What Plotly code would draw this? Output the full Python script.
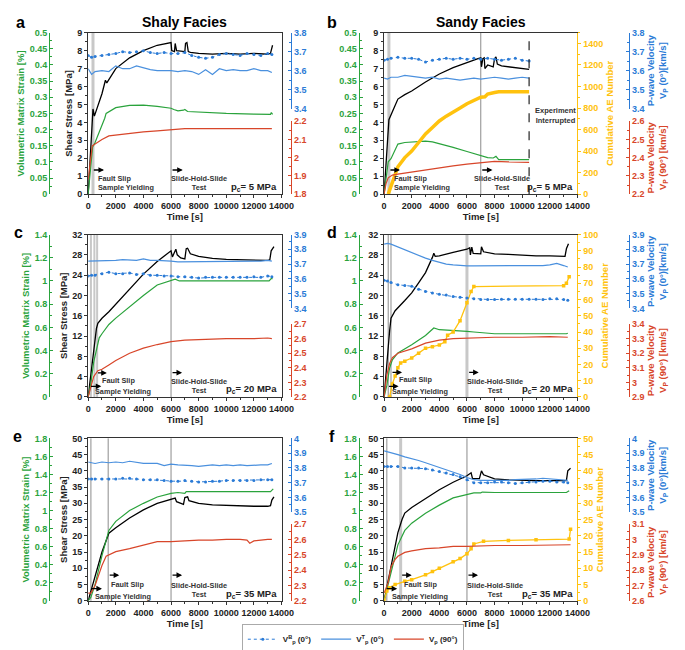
import plotly.graph_objects as go

W, H = 685, 650
GREEN = "#2aa33c"
BLUE = "#2b7bd6"
BLUE_LT = "#4a90de"
RED = "#d8462a"
GOLD = "#ffc20e"
INK = "#222222"
FONT = "Liberation Sans, Arial, sans-serif"

# ---- shared time grid for the P-wave velocity records ----
t_vel = [0, 250, 500, 1000, 1500, 2000, 2500, 3000, 3500, 4000, 4500, 5000, 5500, 6000, 6500,
         7000, 7500, 8000, 8500, 9000, 9500, 10000, 10500, 11000, 11500, 12000, 12500, 13000, 13300]

# ---- a: shaly, pc = 5 MPa ----
a_t_stress = [0, 300, 350, 450, 700, 1000, 1250, 1350, 2000, 3000, 4000, 5000, 6000, 6050, 6250,
              6300, 6400, 7000, 7050, 7150, 7250, 7400, 8000, 9000, 10000, 11000, 12000, 13000, 13200, 13350]
a_stress = [0, 4.0, 4.75, 4.35, 4.9, 5.6, 6.35, 6.2, 7.0, 7.6, 8.0, 8.3, 8.45, 8.0, 7.95,
            8.4, 8.0, 7.95, 8.4, 8.45, 7.95, 7.9, 7.85, 7.8, 7.85, 7.8, 7.85, 7.8, 7.85, 8.3]
a_t_strain = [0, 150, 320, 500, 800, 1200, 1300, 2000, 3000, 4000, 5000, 6000, 6200, 6500, 6900,
              7000, 7200, 8000, 10000, 12000, 13200, 13260, 13350]
a_strain = [0, 0.06, 0.145, 0.16, 0.19, 0.235, 0.25, 0.268, 0.275, 0.276, 0.272, 0.266, 0.262, 0.258, 0.26,
            0.262, 0.256, 0.254, 0.25, 0.248, 0.247, 0.253, 0.247]
a_t_vp = [0, 150, 300, 500, 1000, 1500, 2000, 3000, 4000, 5000, 6000, 7000, 8000, 10000, 12000, 13300]
a_vp90 = [1.88, 1.97, 2.065, 2.075, 2.10, 2.12, 2.125, 2.133, 2.142, 2.148, 2.155, 2.16, 2.16, 2.16, 2.158, 2.16]
a_vb0 = [3.68, 3.67, 3.675, 3.68, 3.685, 3.69, 3.70, 3.695, 3.70, 3.705, 3.695, 3.69, 3.695, 3.69, 3.69,
         3.695, 3.68, 3.67, 3.665, 3.67, 3.685, 3.69, 3.685, 3.68, 3.69, 3.685, 3.68, 3.69, 3.685]
a_vt0 = [3.61, 3.58, 3.595, 3.60, 3.595, 3.625, 3.61, 3.61, 3.625, 3.615, 3.605, 3.60, 3.60, 3.60, 3.595,
         3.60, 3.595, 3.58, 3.605, 3.58, 3.61, 3.60, 3.605, 3.60, 3.60, 3.61, 3.60, 3.60, 3.59]
a_events = [350, 6000]

# ---- b: sandy, pc = 5 MPa ----
b_t_stress = [0, 200, 300, 350, 600, 1000, 1500, 2000, 3000, 4000, 5000, 6000, 6800, 7000, 7050,
              7150, 7250, 7300, 7500, 7900, 8000, 8100, 8200, 8500, 9000, 9500, 10000, 10500]
b_stress = [0, 2.5, 4.0, 4.15, 4.6, 5.3, 5.55, 5.75, 6.25, 6.7, 7.05, 7.35, 7.55, 7.6, 7.1,
            7.55, 7.6, 7.0, 7.2, 7.1, 7.55, 7.65, 7.25, 7.15, 7.1, 7.05, 7.0, 6.95]
b_t_strain = [0, 150, 300, 500, 800, 1000, 1500, 2000, 3000, 3500, 4000, 5000, 6000, 7000, 7500,
              7900, 8100, 8300, 9000, 10500]
b_strain = [0, 0.05, 0.1, 0.11, 0.14, 0.155, 0.16, 0.162, 0.164, 0.162, 0.157, 0.145, 0.132, 0.12, 0.113,
            0.112, 0.117, 0.107, 0.107, 0.107]
b_t_vp = [0, 150, 300, 600, 1000, 2000, 3000, 4000, 5000, 6000, 7000, 8000, 9000, 10500]
b_vp90 = [2.2, 2.26, 2.29, 2.305, 2.31, 2.322, 2.333, 2.345, 2.355, 2.365, 2.373, 2.38, 2.377, 2.375]
b_t_ae = [300, 600, 1000, 1500, 2000, 2500, 3000, 3500, 4000, 4500, 5000, 5500, 6000, 6500, 7000,
          7300, 7500, 8000, 8300, 10500]
b_ae = [0, 120, 255, 340, 400, 480, 560, 620, 680, 725, 760, 800, 840, 870, 900,
        905, 930, 945, 952, 952]
b_t_vel = [0, 250, 500, 1000, 1500, 2000, 2500, 3000, 3500, 4000, 4500, 5000, 5500, 6000, 6500,
           7000, 7500, 8000, 8500, 9000, 9500, 10000, 10500]
b_vb0 = [3.655, 3.66, 3.665, 3.67, 3.665, 3.665, 3.66, 3.645, 3.655, 3.66, 3.665, 3.66, 3.665, 3.66, 3.665,
         3.66, 3.665, 3.66, 3.655, 3.66, 3.665, 3.655, 3.65]
b_vt0 = [3.56, 3.555, 3.565, 3.565, 3.575, 3.57, 3.565, 3.56, 3.565, 3.555, 3.56, 3.555, 3.55, 3.555, 3.56,
         3.555, 3.56, 3.565, 3.56, 3.555, 3.56, 3.565, 3.56]
b_events = [350, 7000]
b_interrupt = 10500

# ---- c: shaly, pc = 20 MPa ----
c_t_stress = [0, 300, 600, 700, 1000, 1500, 2000, 3000, 4000, 5000, 6000, 6100, 6300, 6350, 6450,
              6700, 7000, 7100, 7200, 7400, 8000, 9000, 10000, 11000, 12000, 13000, 13150, 13250, 13450]
c_stress = [0, 7, 13.5, 14.5, 15.5, 16.8, 18.3, 21.3, 24.2, 26.7, 28.8, 27.6, 28.9, 29.1, 28.0,
            27.4, 27.2, 29.2, 29.3, 28.2, 27.7, 27.3, 27.1, 27.0, 26.9, 26.9, 27.0, 28.8, 29.6]
c_t_strain = [0, 200, 400, 600, 800, 1000, 1500, 2000, 3000, 4000, 5000, 6000, 6300, 6600, 13100, 13250, 13350]
c_strain = [0, 0.12, 0.3, 0.42, 0.51, 0.545, 0.625, 0.68, 0.78, 0.875, 0.965, 1.008, 1.015, 1.0, 1.0, 1.02, 1.02]
c_t_vp = [0, 200, 400, 700, 1000, 1500, 2000, 3000, 4000, 5000, 6000, 7000, 8000, 10000, 12000, 13000, 13300]
c_vp90 = [2.2, 2.28, 2.34, 2.38, 2.39, 2.42, 2.45, 2.5, 2.535, 2.56, 2.58, 2.59, 2.595, 2.6, 2.6, 2.605, 2.6]
c_vb0 = [3.62, 3.625, 3.625, 3.635, 3.645, 3.635, 3.635, 3.64, 3.63, 3.635, 3.625, 3.625, 3.62, 3.62, 3.615,
         3.615, 3.61, 3.605, 3.61, 3.61, 3.61, 3.61, 3.61, 3.61, 3.61, 3.615, 3.61, 3.62, 3.615]
c_vt0 = [3.72, 3.72, 3.725, 3.725, 3.725, 3.725, 3.73, 3.73, 3.725, 3.735, 3.725, 3.725, 3.725, 3.72, 3.715,
         3.715, 3.72, 3.72, 3.72, 3.72, 3.72, 3.715, 3.72, 3.72, 3.72, 3.72, 3.72, 3.725, 3.72]
c_events = [200, 450, 650, 6000]

# ---- d: sandy, pc = 20 MPa ----
d_t_stress = [0, 200, 400, 500, 800, 1500, 2000, 2500, 3000, 3500, 3600, 3700, 4000, 5000, 6000,
              6200, 6250, 6350, 6450, 7000, 7050, 7200, 8000, 9000, 10000, 11000, 12000, 13100, 13200, 13350]
d_stress = [0, 7, 13, 15.5, 17, 19, 20.5, 22.5, 24.5, 27.5, 28.3, 27.7, 27.8, 28.5, 29.1,
            29.4, 28.0, 29.5, 28.3, 28.2, 29.6, 28.6, 28.2, 28.1, 27.9, 27.8, 27.8, 27.7, 29.2, 30.2]
d_t_strain = [0, 200, 400, 600, 1000, 2000, 3000, 3600, 4000, 5000, 6000, 6500, 7000, 7500, 8000,
              10000, 12000, 13200, 13300]
d_strain = [0, 0.1, 0.25, 0.32, 0.38, 0.45, 0.53, 0.595, 0.58, 0.575, 0.565, 0.56, 0.555, 0.548, 0.545,
            0.545, 0.543, 0.545, 0.55]
d_t_vp = [0, 200, 400, 600, 1000, 2000, 3000, 4000, 5000, 6000, 8000, 10000, 12000, 13300]
d_vp90 = [2.9, 3.05, 3.13, 3.17, 3.2, 3.23, 3.27, 3.29, 3.3, 3.305, 3.31, 3.31, 3.315, 3.31]
d_t_ae = [400, 600, 800, 1000, 1200, 1500, 2000, 2500, 3000, 3500, 4000, 4400, 4600, 5000, 5500,
          6000, 6300, 6500, 13000, 13200, 13400]
d_ae = [0, 8, 13, 18, 21, 22, 24, 27, 30, 31, 32, 34, 38, 40, 47,
        58, 65, 68, 68.5, 70, 74]
d_vt0 = [3.835, 3.84, 3.835, 3.815, 3.795, 3.78, 3.76, 3.74, 3.725, 3.71, 3.70, 3.695, 3.69, 3.688, 3.688,
         3.688, 3.69, 3.688, 3.688, 3.69, 3.688, 3.69, 3.69, 3.69, 3.69, 3.695, 3.705, 3.69, 3.68]
d_vb0 = [3.59, 3.585, 3.575, 3.56, 3.555, 3.55, 3.53, 3.515, 3.505, 3.495, 3.49, 3.48, 3.475, 3.47, 3.465,
         3.46, 3.46, 3.46, 3.462, 3.462, 3.462, 3.462, 3.462, 3.462, 3.46, 3.465, 3.465, 3.46, 3.455]
d_events = [300, 500, 6000]

# ---- e: shaly, pc = 35 MPa ----
e_t_stress = [0, 200, 500, 1000, 1500, 2000, 3000, 4000, 5000, 6000, 6300, 6400, 6500, 6900, 7000,
              7200, 7300, 8000, 9000, 10000, 11000, 12000, 13000, 13200, 13300, 13450]
e_stress = [0, 3, 8, 15, 20.8, 22.5, 25.5, 28, 30, 31.3, 31.6, 30.5, 30.3, 29.7, 31.8,
            32, 30.8, 30, 29.5, 29.3, 29.2, 29.1, 29.1, 29.3, 31, 32]
e_t_strain = [0, 200, 500, 1000, 1500, 2000, 3000, 4000, 5000, 6000, 6500, 7000, 7100, 8000, 10000,
              12000, 13200, 13400]
e_strain = [0, 0.04, 0.18, 0.5, 0.78, 0.88, 1.0, 1.08, 1.15, 1.19, 1.2, 1.19, 1.21, 1.21, 1.21,
            1.21, 1.21, 1.24]
e_t_vp = [0, 200, 500, 1000, 1300, 1500, 2000, 3000, 4000, 5000, 6000, 7000, 8000, 9000, 10000,
          11000, 11500, 11700, 12000, 13000, 13300]
e_vp90 = [2.25, 2.25, 2.3, 2.43, 2.49, 2.5, 2.52, 2.54, 2.56, 2.585, 2.585, 2.59, 2.595, 2.595, 2.6,
          2.6, 2.595, 2.575, 2.59, 2.6, 2.6]
e_vt0 = [3.84, 3.835, 3.83, 3.84, 3.835, 3.84, 3.835, 3.845, 3.835, 3.83, 3.83, 3.83, 3.815, 3.825, 3.82,
         3.82, 3.815, 3.81, 3.815, 3.82, 3.815, 3.82, 3.815, 3.82, 3.815, 3.82, 3.82, 3.82, 3.83]
e_vb0 = [3.725, 3.725, 3.725, 3.725, 3.725, 3.725, 3.73, 3.73, 3.725, 3.72, 3.72, 3.72, 3.715, 3.71, 3.71,
         3.715, 3.71, 3.705, 3.705, 3.71, 3.71, 3.715, 3.715, 3.715, 3.715, 3.715, 3.72, 3.72, 3.72]
e_events = [200, 1450, 6000]

# ---- f: sandy, pc = 35 MPa ----
f_t_stress = [0, 500, 1000, 1300, 1500, 2000, 3000, 4000, 5000, 6000, 6300, 6400, 6900, 7050, 7200,
              8000, 9000, 10000, 11000, 12000, 13200, 13300, 13500]
f_stress = [0, 10, 21, 25, 27, 28.7, 31.5, 34.2, 36.5, 38.5, 39.4, 37.7, 37.6, 40, 38.8,
            37.5, 37.2, 37, 37, 37, 37, 40, 40.8]
f_t_strain = [0, 500, 1000, 1500, 2000, 3000, 4000, 5000, 6000, 6300, 6500, 7000, 7100, 8000, 10000,
              12000, 13200, 13400]
f_strain = [0, 0.3, 0.62, 0.78, 0.86, 0.97, 1.06, 1.14, 1.18, 1.19, 1.195, 1.195, 1.205, 1.2, 1.2,
            1.2, 1.2, 1.22]
f_t_vp = [0, 300, 500, 800, 1000, 1500, 2000, 3000, 4000, 5000, 6000, 8000, 10000, 12000, 13500]
f_vp90 = [2.65, 2.72, 2.82, 2.87, 2.89, 2.915, 2.925, 2.94, 2.945, 2.955, 2.955, 2.96, 2.96, 2.965, 2.965]
f_t_ae = [0, 200, 400, 800, 1500, 2000, 3000, 3500, 4000, 5000, 5500, 6000, 6300, 6500, 7200,
          9000, 11000, 13400, 13500]
f_ae = [0, 3, 4, 5, 6, 6.5, 8, 9, 10, 12, 13, 14.5, 16, 17.5, 18.3,
        18.6, 18.8, 19, 22]
f_vt0 = [3.915, 3.91, 3.9, 3.89, 3.875, 3.865, 3.85, 3.835, 3.82, 3.8, 3.79, 3.77, 3.755, 3.735, 3.72,
         3.715, 3.715, 3.715, 3.712, 3.715, 3.72, 3.72, 3.72, 3.725, 3.73, 3.727, 3.72, 3.72, 3.715]
f_vb0 = [3.81, 3.81, 3.81, 3.81, 3.8, 3.8, 3.8, 3.795, 3.785, 3.775, 3.765, 3.755, 3.74, 3.72, 3.7,
         3.7, 3.7, 3.705, 3.705, 3.7, 3.695, 3.7, 3.705, 3.705, 3.71, 3.71, 3.705, 3.705, 3.7]
f_events = [200, 1200, 6000]


def fx(p):
    return p / W


def fy(p):
    return 1 - p / H


# pixel geometry of the six panels
PLOT_X = [(79, 277), (382, 580)]
ROW_Y = [(20, 184), (225, 390), (432, 597)]
BLUE_Y = [(20, 97), (225, 300), (432, 507)]
RED_Y = [(110, 184), (316, 390), (519, 597)]
GREEN_X = [39, 356]
VEL_X = [287, 633]

panels = [
    dict(letter="a", col=0, row=0, ts=a_t_stress, s=a_stress, te=a_t_strain, e=a_strain, tr=a_t_vp, r=a_vp90,
         tv=t_vel, vb=a_vb0, vt=a_vt0, ta=None, ae=None, ev=a_events, pc="5",
         srng=[0, 9], sdt=1, ernge=[0, 0.5], edt=0.05, brng=[3.4, 3.8], rrng=[1.8, 2.2], arng=None, adt=None),
    dict(letter="b", col=1, row=0, ts=b_t_stress, s=b_stress, te=b_t_strain, e=b_strain, tr=b_t_vp, r=b_vp90,
         tv=b_t_vel, vb=b_vb0, vt=b_vt0, ta=b_t_ae, ae=b_ae, ev=b_events, pc="5",
         srng=[0, 9], sdt=1, ernge=[0, 0.5], edt=0.05, brng=[3.4, 3.8], rrng=[2.2, 2.6], arng=[0, 1500], adt=200),
    dict(letter="c", col=0, row=1, ts=c_t_stress, s=c_stress, te=c_t_strain, e=c_strain, tr=c_t_vp, r=c_vp90,
         tv=t_vel, vb=c_vb0, vt=c_vt0, ta=None, ae=None, ev=c_events, pc="20",
         srng=[0, 32], sdt=4, ernge=[0, 1.4], edt=0.2, brng=[3.4, 3.9], rrng=[2.2, 2.7], arng=None, adt=None),
    dict(letter="d", col=1, row=1, ts=d_t_stress, s=d_stress, te=d_t_strain, e=d_strain, tr=d_t_vp, r=d_vp90,
         tv=t_vel, vb=d_vb0, vt=d_vt0, ta=d_t_ae, ae=d_ae, ev=d_events, pc="20",
         srng=[0, 32], sdt=4, ernge=[0, 1.4], edt=0.2, brng=[3.4, 3.9], rrng=[2.9, 3.4], arng=[0, 100], adt=10),
    dict(letter="e", col=0, row=2, ts=e_t_stress, s=e_stress, te=e_t_strain, e=e_strain, tr=e_t_vp, r=e_vp90,
         tv=t_vel, vb=e_vb0, vt=e_vt0, ta=None, ae=None, ev=e_events, pc="35",
         srng=[0, 50], sdt=5, ernge=[0, 1.8], edt=0.2, brng=[3.5, 4.0], rrng=[2.2, 2.7], arng=None, adt=None),
    dict(letter="f", col=1, row=2, ts=f_t_stress, s=f_stress, te=f_t_strain, e=f_strain, tr=f_t_vp, r=f_vp90,
         tv=t_vel, vb=f_vb0, vt=f_vt0, ta=f_t_ae, ae=f_ae, ev=f_events, pc="35",
         srng=[0, 50], sdt=5, ernge=[0, 1.8], edt=0.2, brng=[3.5, 4.0], rrng=[2.6, 3.1], arng=[0, 50], adt=5),
]

# label positions in data units (x = time, y = shear stress) per panel
labels = {
    "a": dict(fs=[(300, 1150, 1.35)], fs_txt=[(600, 0.6, "Fault Slip<br>Sample Yielding")],
              shs=(6000, 6850, 1.35), shs_txt=(8000, 0.6), pc_y=0.4),
    "b": dict(fs=[(350, 1150, 1.35)], fs_txt=[(540, 0.6, "Fault Slip<br>Sample Yielding")],
              shs=(7000, 7850, 1.35), shs_txt=(8550, 0.6), pc_y=0.4),
    "c": dict(fs=[(600, 1350, 4.75), (100, 950, 2.1)],
              fs_txt=[(850, 3.25, "Fault Slip"), (330, 1.0, "Sample Yielding")],
              shs=(6000, 6800, 4.8), shs_txt=(8000, 2.1), pc_y=1.5),
    "d": dict(fs=[(500, 1300, 4.85), (250, 1050, 2.1)],
              fs_txt=[(900, 3.45, "Fault Slip"), (420, 1.0, "Sample Yielding")],
              shs=(6050, 6850, 4.85), shs_txt=(8000, 2.2), pc_y=1.5),
    "e": dict(fs=[(1450, 2250, 7.9), (150, 1000, 3.75)],
              fs_txt=[(1530, 5.1, "Fault Slip"), (350, 1.2, "Sample Yielding")],
              shs=(6000, 6800, 7.9), shs_txt=(8000, 3.4), pc_y=2.2),
    "f": dict(fs=[(1200, 2000, 7.9), (100, 950, 3.75)],
              fs_txt=[(1300, 5.1, "Fault Slip"), (420, 1.2, "Sample Yielding")],
              shs=(6000, 6800, 7.9), shs_txt=(8050, 3.4), pc_y=2.2),
}

fig = go.Figure()
layout = {}
shapes = []
annotations = []
counter = [0]


def new_y():
    counter[0] += 1
    n = counter[0]
    return ("y" if n == 1 else f"y{n}"), ("yaxis" if n == 1 else f"yaxis{n}")


def tfont(color, size=9):
    return dict(color=color, size=size, family=FONT, weight="bold")


def title(text, color, standoff):
    # only pass a title where the reference shows one
    if not text:
        return {}
    return dict(title=dict(text=text, font=tfont(color, 9.5), standoff=standoff))


for k, p in enumerate(panels):
    left = p["col"] == 0
    x0, x1 = PLOT_X[p["col"]]
    y0, y1 = ROW_Y[p["row"]]
    xi = k + 1
    xn = "x" if xi == 1 else f"x{xi}"
    xk = "xaxis" if xi == 1 else f"xaxis{xi}"
    sn, sk = new_y()
    en, ek = new_y()
    an, ak = new_y() if p["ae"] is not None else (None, None)
    bn, bk = new_y()
    rn, rk = new_y()

    layout[xk] = dict(domain=[fx(x0), fx(x1)], anchor=sn, range=[0, 14000], dtick=2000, tickformat="d",
                      showgrid=False, zeroline=False, showline=True, mirror=True, linecolor="#333",
                      ticks="outside", ticklen=3, tickcolor="#333", tickfont=tfont(INK),
                      minor=dict(ticks="outside", dtick=1000, ticklen=2, tickcolor="#333"),
                      **title("Time [s]", INK, 1))
    layout[sk] = dict(domain=[fy(y1), fy(y0)], anchor=xn, range=p["srng"], dtick=p["sdt"],
                      showgrid=False, zeroline=False, showline=True, mirror=True, linecolor="#333",
                      ticks="outside", ticklen=3, tickcolor="#333", tickfont=tfont(INK),
                      minor=dict(ticks="outside", dtick=p["sdt"] / 2, ticklen=2, tickcolor="#333"),
                      **title("Shear Stress [MPa]" if left else "", INK, 3))
    layout[ek] = dict(overlaying=sn, anchor="free", position=fx(GREEN_X[p["col"]]), side="left",
                      range=p["ernge"], dtick=p["edt"], showgrid=False, zeroline=False,
                      showline=True, linecolor=GREEN, ticks="inside", ticklen=3, tickcolor=GREEN,
                      tickfont=tfont(GREEN),
                      minor=dict(ticks="inside", dtick=p["edt"] / 2, ticklen=2, tickcolor=GREEN),
                      **title("Volumetric Matrix Strain [%]" if left else "", GREEN, 2))
    by0, by1 = BLUE_Y[p["row"]]
    layout[bk] = dict(domain=[fy(by1), fy(by0)], anchor="free", position=fx(VEL_X[p["col"]]), side="right",
                      range=p["brng"], dtick=0.1, showgrid=False, zeroline=False,
                      showline=True, linecolor=BLUE, ticks="inside", ticklen=3, tickcolor=BLUE,
                      tickfont=tfont(BLUE),
                      minor=dict(ticks="inside", dtick=0.05, ticklen=2, tickcolor=BLUE),
                      **title("" if left else "P-wave Velocity<br>V<sub>P</sub> (0°)[km/s]", BLUE, 3))
    ry0, ry1 = RED_Y[p["row"]]
    layout[rk] = dict(domain=[fy(ry1), fy(ry0)], anchor="free", position=fx(VEL_X[p["col"]]), side="right",
                      range=p["rrng"], dtick=0.1, showgrid=False, zeroline=False,
                      showline=True, linecolor=RED, ticks="inside", ticklen=3, tickcolor=RED,
                      tickfont=tfont(RED),
                      minor=dict(ticks="inside", dtick=0.05, ticklen=2, tickcolor=RED),
                      **title("" if left else "P-wave Velocity<br>V<sub>P</sub> (90°) [km/s]", RED, 3))
    if an:
        layout[ak] = dict(overlaying=sn, anchor=xn, side="right", range=p["arng"], dtick=p["adt"],
                          showgrid=False, zeroline=False, showline=True, linecolor=GOLD,
                          ticks="outside", ticklen=3, tickcolor=GOLD, tickfont=tfont(GOLD),
                          minor=dict(ticks="outside", dtick=p["adt"] / 2, ticklen=2, tickcolor=GOLD),
                          **title("Cumulative AE Number", GOLD, 4))

    first = k == 0
    fig.add_trace(go.Scatter(x=p["tv"], y=p["vt"], xaxis=xn, yaxis=bn, mode="lines",
                             line=dict(color=BLUE_LT, width=1.2), name="V<sup>T</sup><sub>p</sub> (0°)",
                             legendrank=2, showlegend=first))
    fig.add_trace(go.Scatter(x=p["tv"], y=p["vb"], xaxis=xn, yaxis=bn, mode="lines+markers",
                             line=dict(color=BLUE, width=1, dash="dot"), marker=dict(size=3, color=BLUE),
                             name="V<sup>B</sup><sub>p</sub> (0°)", legendrank=1, showlegend=first))
    fig.add_trace(go.Scatter(x=p["tr"], y=p["r"], xaxis=xn, yaxis=rn, mode="lines",
                             line=dict(color=RED, width=1.2), name="V<sub>p</sub> (90°)",
                             legendrank=3, showlegend=first))
    if an:
        if p["letter"] == "b":
            gold_kw = dict(mode="lines", line=dict(color=GOLD, width=3.5))
        else:
            gold_kw = dict(mode="lines+markers", line=dict(color=GOLD, width=1.3),
                           marker=dict(size=3.5, symbol="square", color=GOLD))
        fig.add_trace(go.Scatter(x=p["ta"], y=p["ae"], xaxis=xn, yaxis=an, showlegend=False, **gold_kw))
    fig.add_trace(go.Scatter(x=p["te"], y=p["e"], xaxis=xn, yaxis=en, mode="lines",
                             line=dict(color=GREEN, width=1.2), showlegend=False))
    fig.add_trace(go.Scatter(x=p["ts"], y=p["s"], xaxis=xn, yaxis=sn, mode="lines",
                             line=dict(color="black", width=1.3), showlegend=False))

    # event markers
    for t in p["ev"]:
        thick = (p["letter"] in "ab" and t < 1000) or (p["letter"] == "d" and t == 6000) or \
                (p["letter"] == "f" and t == 1200)
        light = thick or (p["letter"] == "c" and t < 1000)
        shapes.append(dict(type="line", xref=xn, yref=f"{sn} domain", x0=t, x1=t, y0=0, y1=1,
                           line=dict(color="#c8c8c8" if light else "#8c8c8c", width=3 if thick else (2 if light else 1)),
                           layer="below"))
    if p["letter"] == "b":
        shapes.append(dict(type="line", xref=xn, yref=f"{sn} domain", x0=b_interrupt, x1=b_interrupt,
                           y0=0, y1=1, line=dict(color="#333", width=1.3, dash="dash")))
        annotations.append(dict(x=12400, y=4.4, xref=xn, yref=sn, showarrow=False,
                                text="Experiment<br>Interrupted", font=tfont("#333", 7.5)))

    lab = labels[p["letter"]]
    arrows = lab["fs"] + [lab["shs"]]
    for ta, tb, yy in arrows:
        annotations.append(dict(x=tb, y=yy, ax=ta, ay=yy, xref=xn, yref=sn, axref=xn, ayref=sn,
                                text="", showarrow=True, arrowhead=2, arrowsize=0.8, arrowwidth=1.4,
                                arrowcolor="black"))
    for tx, yy, txt in lab["fs_txt"]:
        annotations.append(dict(x=tx, y=yy, xref=xn, yref=sn, xanchor="left", yanchor="middle",
                                align="left", showarrow=False, text=txt, font=tfont("#333", 7.3)))
    sx, sy = lab["shs_txt"]
    annotations.append(dict(x=sx, y=sy, xref=xn, yref=sn, xanchor="center", yanchor="middle",
                            showarrow=False, text="Slide-Hold-Slide<br>Test", font=tfont("#333", 7.3)))
    annotations.append(dict(x=13850, y=lab["pc_y"], xref=xn, yref=sn, xanchor="right", yanchor="middle",
                            showarrow=False, text=f"p<sub>c</sub>= {p['pc']} MPa", font=tfont(INK, 9.5)))

# panel letters and column titles
for letter, px_, py_ in [("a", 10, 10), ("b", 329, 10), ("c", 8, 223), ("d", 329, 223),
                         ("e", 7, 430), ("f", 329, 430)]:
    annotations.append(dict(x=fx(px_), y=fy(py_), xref="paper", yref="paper", text=letter,
                            showarrow=False, xanchor="center", yanchor="middle", font=tfont("black", 16)))
annotations.append(dict(x=fx(178), y=fy(9), xref="paper", yref="paper", text="Shaly Facies",
                        showarrow=False, xanchor="center", yanchor="middle", font=tfont("black", 14)))
annotations.append(dict(x=fx(481), y=fy(9), xref="paper", yref="paper", text="Sandy Facies",
                        showarrow=False, xanchor="center", yanchor="middle", font=tfont("black", 14)))

fig.update_layout(
    width=W, height=H,
    margin=dict(l=0, r=0, t=0, b=0),
    paper_bgcolor="white",
    plot_bgcolor="rgba(0,0,0,0)",
    font=dict(family=FONT, size=9, color=INK, weight="bold"),
    shapes=shapes,
    annotations=annotations,
    legend=dict(orientation="h", x=fx(350), y=fy(636), xanchor="center", yanchor="middle",
                bordercolor="#aaaaaa", borderwidth=1, font=tfont(INK, 8), itemwidth=30,
                tracegroupgap=4, bgcolor="white"),
    **layout,
)

fig.write_html("out.html")
